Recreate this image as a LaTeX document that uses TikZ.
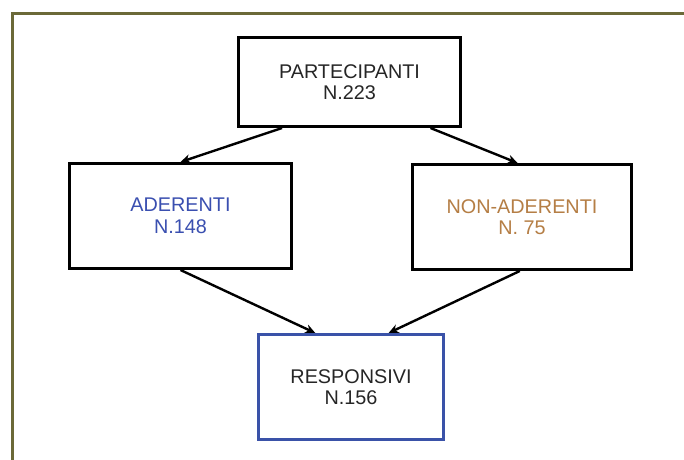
\documentclass[tikz,border=0pt]{standalone}
\usepackage{fontspec}
\setmainfont{Liberation Sans}
\usetikzlibrary{arrows.meta,calc}
\definecolor{frameolive}{HTML}{6B6938}
\definecolor{adblue}{HTML}{3A4FB0}
\definecolor{nonbrown}{HTML}{B57E45}
\definecolor{respblue}{HTML}{3A52A8}
\definecolor{txtdark}{HTML}{262626}
\tikzset{
  box/.style={draw=black, line width=3pt, rectangle, inner sep=0pt, align=center,
    font=\fontsize{19.8}{21.5}\selectfont, text=txtdark},
  conn/.style={line width=2.4pt, -{Stealth[length=10pt,width=9pt]}, black}
}
\begin{document}
\begin{tikzpicture}[x=1pt,y=-1pt]
\clip (0,0) rectangle (684,459);
\fill[white] (0,0) rectangle (684,459);
\draw[frameolive, line width=2.5pt] (12.5,13.5) rectangle (720,500);
\node[box, minimum width=222pt, minimum height=89pt] (P) at (349.5,82) {PARTECIPANTI\\N.223};
\node[box, minimum width=222pt, minimum height=105pt, text=adblue] (A) at (180.5,216) {ADERENTI\\N.148};
\node[box, minimum width=219pt, minimum height=105pt, text=nonbrown] (N) at (522,217) {NON-ADERENTI\\N. 75};
\node[box, draw=respblue, minimum width=185pt, minimum height=105pt] (R) at (351,387) {RESPONSIVI\\N.156};
\draw[conn] ($(P.south west)!0.2!(P.south east)$) -- (A.north);
\draw[conn] ($(P.south west)!0.86!(P.south east)$) -- ($(N.north west)!0.48!(N.north east)$);
\draw[conn] (A.south) -- ($(R.north west)!0.31!(R.north east)$);
\draw[conn] ($(N.south west)!0.49!(N.south east)$) -- ($(R.north west)!0.70!(R.north east)$);
\end{tikzpicture}
\end{document}
